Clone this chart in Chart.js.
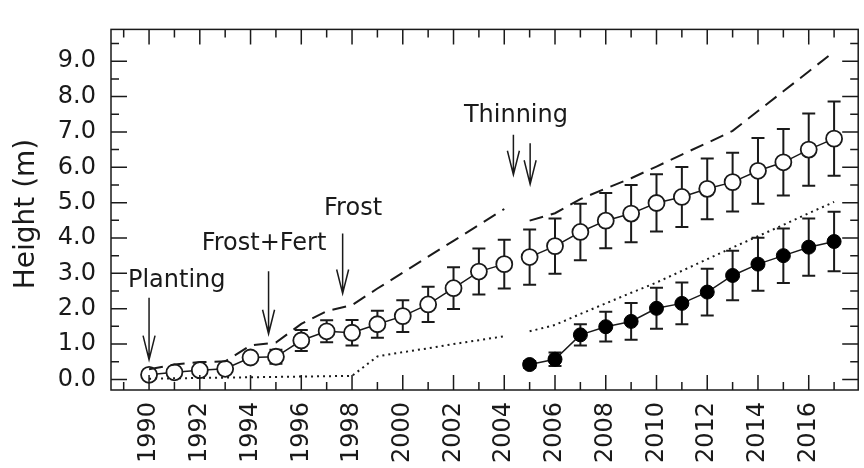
<!DOCTYPE html>
<html>
<head>
<meta charset="utf-8">
<script src="https://cdn.jsdelivr.net/npm/chart.js@4.4.0/dist/chart.umd.min.js"></script>
<style>
  html, body { margin: 0; padding: 0; background: #fff; overflow: hidden; }
  #wrap { width: 868px; height: 468px; }
</style>
</head>
<body>
<div id="wrap"><canvas id="chart" width="868" height="468"></canvas></div>
<script>
// years of measurement
const years = [1990, 1991, 1992, 1993, 1994, 1995, 1996, 1997, 1998, 1999, 2000, 2001, 2002, 2003,
               2004, 2005, 2006, 2007, 2008, 2009, 2010, 2011, 2012, 2013, 2014, 2015, 2016, 2017];
// open circles: mean height and error
const openMean = [0.13, 0.20, 0.26, 0.30, 0.62, 0.64, 1.10, 1.36, 1.32, 1.56, 1.79, 2.12, 2.58, 3.05,
                  3.26, 3.46, 3.77, 4.17, 4.49, 4.69, 4.99, 5.16, 5.39, 5.58, 5.90, 6.14, 6.50, 6.81];
const openErr  = [0.05, 0.05, 0.07, 0.08, 0.12, 0.20, 0.30, 0.31, 0.36, 0.38, 0.45, 0.50, 0.59, 0.65,
                  0.69, 0.78, 0.78, 0.80, 0.78, 0.81, 0.81, 0.85, 0.86, 0.83, 0.93, 0.94, 1.02, 1.05];
// dashed (upper) and dotted (lower) lines
const upperLine = [0.29, 0.42, 0.49, 0.51, 0.96, 1.04, 1.57, 1.93, 2.10, 2.57, 3.02, 3.47, 3.92, 4.37,
                   4.82, 4.49, 4.70, 5.10, 5.40, 5.69, 6.02, 6.36, 6.69, 7.03, 7.59, 8.15, 8.71, 9.27];
const lowerLine = [0.02, 0.03, 0.04, 0.05, 0.06, 0.07, 0.08, 0.09, 0.10, 0.65, 0.77, 0.88, 1.00, 1.11,
                   1.22, 1.36, 1.54, 1.85, 2.15, 2.45, 2.74, 3.07, 3.40, 3.73, 4.05, 4.37, 4.70, 5.02];
// filled circles (after thinning)
const thinYears = [2005, 2006, 2007, 2008, 2009, 2010, 2011, 2012, 2013, 2014, 2015, 2016, 2017];
const thinMean  = [0.42, 0.57, 1.26, 1.49, 1.64, 2.01, 2.15, 2.47, 2.94, 3.26, 3.50, 3.74, 3.90];
const thinErr   = [0.10, 0.19, 0.30, 0.42, 0.52, 0.58, 0.59, 0.66, 0.70, 0.75, 0.77, 0.81, 0.84];
const gapAfter = 2004;

const yTicks = [0, 1, 2, 3, 4, 5, 6, 7, 8, 9];
const xLabelYears = [1990, 1992, 1994, 1996, 1998, 2000, 2002, 2004, 2006, 2008, 2010, 2012, 2014, 2016];

// events: label (x, baseline y) and arrows [x, top, tip] in data units
const notes = [
  { text: 'Planting',   x: 1991.09, y: 2.60, arrows: [[1990.0, 2.31, 0.56]] },
  { text: 'Frost+Fert', x: 1994.53, y: 3.65, arrows: [[1994.71, 3.06, 1.29]] },
  { text: 'Frost',      x: 1998.04, y: 4.66, arrows: [[1997.63, 4.13, 2.43]] },
  { text: 'Thinning',   x: 2004.46, y: 7.27, arrows: [[2004.36, 6.92, 5.79], [2005.02, 6.68, 5.52]] }
];

const FONT = "'DejaVu Sans', sans-serif";
const INK = '#1a1a1a';

const pts = (xs, ys) => xs.map((x, i) => ({ x: x, y: ys[i] }));
const gapSeg = { borderColor: c => c.p0.parsed.x === gapAfter ? 'rgba(0,0,0,0)' : undefined };

// error bars under the markers
const errorBars = {
  id: 'errorBars',
  beforeDatasetsDraw(chart) {
    const { ctx, scales: { y } } = chart;
    ctx.save();
    ctx.strokeStyle = INK;
    ctx.lineWidth = 2;
    chart.data.datasets.forEach((ds, i) => {
      if (!ds.errors) return;
      chart.getDatasetMeta(i).data.forEach((el, j) => {
        const v = ds.data[j].y, e = ds.errors[j];
        const top = y.getPixelForValue(v + e), bot = y.getPixelForValue(v - e);
        ctx.beginPath();
        ctx.moveTo(el.x, top); ctx.lineTo(el.x, bot);
        ctx.moveTo(el.x - 6.5, top); ctx.lineTo(el.x + 6.5, top);
        ctx.moveTo(el.x - 6.5, bot); ctx.lineTo(el.x + 6.5, bot);
        ctx.stroke();
      });
    });
    ctx.restore();
  }
};

// box with inward ticks, annotations, y title
const frame = {
  id: 'frame',
  afterDatasetsDraw(chart) {
    const { ctx, chartArea: a, scales: { x, y } } = chart;
    ctx.save();
    ctx.strokeStyle = INK;
    ctx.lineWidth = 1.5;
    ctx.strokeRect(a.left, a.top, a.right - a.left, a.bottom - a.top);
    ctx.beginPath();
    for (let yr = Math.ceil(x.min); yr <= x.max; yr++) {
      const px = x.getPixelForValue(yr);
      const len = yr % 2 === 0 ? 15 : 8;
      ctx.moveTo(px, a.bottom); ctx.lineTo(px, a.bottom - len);
      ctx.moveTo(px, a.top); ctx.lineTo(px, a.top + len);
    }
    for (let v = 0; v <= y.max; v += 0.5) {
      const py = y.getPixelForValue(v);
      const len = v % 1 === 0 ? 16 : 8;
      ctx.moveTo(a.left, py); ctx.lineTo(a.left + len, py);
      ctx.moveTo(a.right, py); ctx.lineTo(a.right - len, py);
    }
    ctx.stroke();

    ctx.fillStyle = INK;
    ctx.font = '24px ' + FONT;
    ctx.textAlign = 'center';
    ctx.textBaseline = 'alphabetic';
    notes.forEach(n => {
      ctx.fillText(n.text, x.getPixelForValue(n.x), y.getPixelForValue(n.y));
      n.arrows.forEach(([ax, t, tip]) => {
        const px = x.getPixelForValue(ax), pt = y.getPixelForValue(t), pb = y.getPixelForValue(tip);
        ctx.beginPath();
        ctx.moveTo(px, pt); ctx.lineTo(px, pb);
        ctx.moveTo(px - 6, pb - 24); ctx.lineTo(px, pb); ctx.lineTo(px + 6, pb - 24);
        ctx.stroke();
      });
    });

    ctx.translate(27, 214);
    ctx.rotate(-Math.PI / 2);
    ctx.textBaseline = 'middle';
    ctx.font = '28px ' + FONT;
    ctx.fillText('Height (m)', 0, 0);
    ctx.restore();
  }
};

new Chart(document.getElementById('chart'), {
  type: 'line',
  data: {
    datasets: [
      {
        data: pts(years, upperLine), borderColor: INK, borderWidth: 2, borderDash: [14, 8],
        pointRadius: 0, segment: gapSeg
      },
      {
        data: pts(years, lowerLine), borderColor: INK, borderWidth: 2, borderDash: [2, 4],
        pointRadius: 0, segment: gapSeg
      },
      {
        data: pts(years, openMean), errors: openErr, borderColor: INK, borderWidth: 1.5,
        pointRadius: 8, pointBackgroundColor: '#fff', pointBorderColor: INK, pointBorderWidth: 1.8,
        segment: gapSeg
      },
      {
        data: pts(thinYears, thinMean), errors: thinErr, borderColor: INK, borderWidth: 1.5,
        pointRadius: 7, pointBackgroundColor: '#000', pointBorderColor: '#000', pointBorderWidth: 1
      }
    ]
  },
  options: {
    responsive: false,
    animation: false,
    layout: { padding: { top: 10, right: 0, left: 0, bottom: 0 } },
    plugins: { legend: { display: false }, tooltip: { enabled: false } },
    scales: {
      x: {
        type: 'linear', min: 1988.5, max: 2017.95,
        afterBuildTicks: s => { s.ticks = xLabelYears.map(v => ({ value: v })); },
        afterFit: s => { s.height = 78; },
        grid: { display: false, drawTicks: false },
        border: { display: false },
        ticks: {
          autoSkip: false, minRotation: 90, maxRotation: 90, padding: 12,
          color: INK, font: { family: FONT, size: 24 },
          callback: v => String(v)
        }
      },
      y: {
        type: 'linear', min: -0.3, max: 9.9,
        afterBuildTicks: s => { s.ticks = yTicks.map(v => ({ value: v })); },
        afterFit: s => { s.width = 111; },
        grid: { display: false, drawTicks: false },
        border: { display: false },
        ticks: {
          padding: 15, color: INK, font: { family: FONT, size: 24 },
          callback: v => v.toFixed(1)
        }
      }
    }
  },
  plugins: [errorBars, frame]
});
</script>
</body>
</html>
